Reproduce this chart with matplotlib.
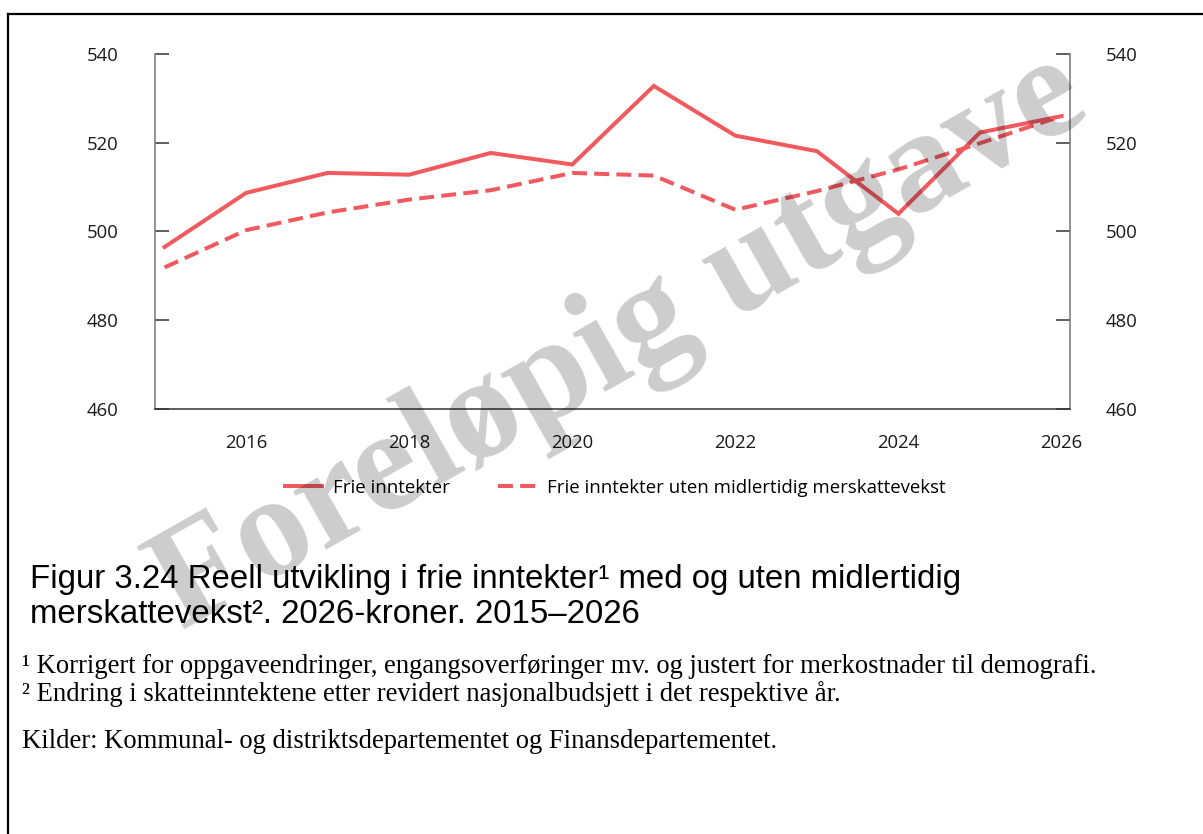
import matplotlib
matplotlib.use("Agg")
import matplotlib.pyplot as plt
from matplotlib.lines import Line2D

# Frie inntekter, mrd. 2026-kroner
years = [2015, 2016, 2017, 2018, 2019, 2020, 2021, 2022, 2023, 2024, 2025, 2026]
frie_inntekter = [496.5, 508.7, 513.2, 512.8, 517.7, 515.1, 532.8, 521.6, 518.1, 504.0, 522.3, 526.0]
uten_merskatt = [491.9, 500.3, 504.3, 507.2, 509.3, 513.2, 512.6, 504.9, 509.1, 514.0, 519.9, 526.0]

series_labels = ["Frie inntekter", "Frie inntekter uten midlertidig merskattevekst"]
x_ticks = [2016, 2018, 2020, 2022, 2024, 2026]
y_ticks = [460, 480, 500, 520, 540]

caption_lines = ["Figur 3.24 Reell utvikling i frie inntekter\u00b9 med og uten midlertidig",
                 "merskattevekst\u00b2. 2026-kroner. 2015\u20132026"]
note_1 = "\u00b9 Korrigert for oppgaveendringer, engangsoverføringer mv. og justert for merkostnader til demografi."
note_2 = "\u00b2 Endring i skatteinntektene etter revidert nasjonalbudsjett i det respektive år."
source = "Kilder: Kommunal- og distriktsdepartementet og Finansdepartementet."

RED = "#F05A5F"
W, H = 1203, 834

fig = plt.figure(figsize=(W / 100, H / 100), dpi=100)
ax = fig.add_axes([155 / W, 1 - 409 / H, 915 / W, 355 / H])

ax.plot(years, frie_inntekter, color=RED, lw=2.9, solid_joinstyle="miter",
        label=series_labels[0])
ax.plot(years, uten_merskatt, color=RED, lw=2.9, dashes=(3.7, 1.8),
        label=series_labels[1])

ax.set_xlim(2014.883, 2026.104)
ax.set_ylim(460, 540)
ax.set_xticks(x_ticks)
ax.set_yticks(y_ticks)

ax.spines["top"].set_visible(False)
ax.spines["left"].set_color("#777777")
ax.spines["right"].set_color("#777777")
ax.spines["bottom"].set_color("#333333")
for s in ["left", "right", "bottom"]:
    ax.spines[s].set_linewidth(1.1)

tick_family, tick_size = "Open Sans", 13.3
ax.tick_params(axis="y", left=True, right=True, labelleft=True, labelright=True,
               direction="in", length=10, width=1.1, color="#333333", pad=26,
               labelcolor="#1a1a1a")
ax.tick_params(axis="x", length=0, pad=18, labelcolor="#1a1a1a")
for lab in ax.get_xticklabels() + ax.get_yticklabels():
    lab.set_fontfamily(tick_family)
    lab.set_fontsize(tick_size)
for t in ax.yaxis.get_major_ticks():
    t.label2.set_fontfamily(tick_family)
    t.label2.set_fontsize(tick_size)

fig.legend(loc="center", bbox_to_anchor=(615 / W, 1 - 488 / H), ncol=2,
           frameon=False, handlelength=2.0, handletextpad=0.6,
           columnspacing=2.6, prop={"family": "Open Sans", "size": 13.4})

# caption and notes
fig.text(30 / W, 1 - 588 / H, caption_lines[0], family="Liberation Sans",
         fontsize=23.8, va="baseline", ha="left")
fig.text(30 / W, 1 - 623 / H, caption_lines[1], family="Liberation Sans",
         fontsize=23.8, va="baseline", ha="left")
fig.text(22 / W, 1 - 673 / H, note_1, family="Liberation Serif", fontsize=19.2,
         va="baseline", ha="left")
fig.text(22 / W, 1 - 701 / H, note_2, family="Liberation Serif", fontsize=19.2,
         va="baseline", ha="left")
fig.text(22 / W, 1 - 748 / H, source, family="Liberation Serif", fontsize=19.2,
         va="baseline", ha="left")

# watermark over everything
fig.text(620 / W, 1 - 343 / H, "Foreløpig utgave", family="Liberation Serif",
         weight="bold", fontsize=105, rotation=29.5, rotation_mode="anchor",
         ha="center", va="center", color="black", alpha=0.2, zorder=10)

# page frame
fig.add_artist(Line2D([8 / W, 8 / W], [0, 1 - 14 / H], color="black", lw=1.6))
fig.add_artist(Line2D([8 / W, 1], [1 - 14 / H, 1 - 14 / H], color="black", lw=1.6))

fig.savefig("out.png", dpi=100)
